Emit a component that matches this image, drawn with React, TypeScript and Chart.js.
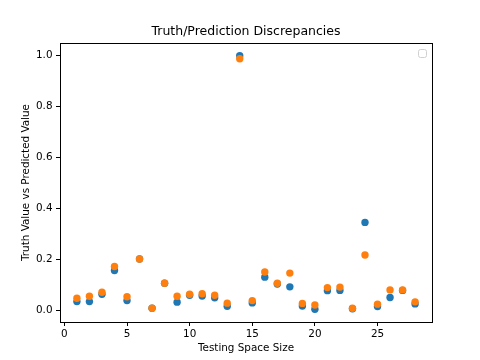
import React, { useEffect, useRef } from "react";
import { Chart, registerables } from "chart.js";

Chart.register(...registerables);

const testingSpaceSize = [1, 2, 3, 4, 5, 6, 7, 8, 9, 10, 11, 12, 13, 14, 15, 16, 17, 18, 19, 20, 21, 22, 23, 24, 25, 26, 27, 28];
const truthValues = [0.035, 0.035, 0.064, 0.157, 0.039, 0.202, 0.009, 0.107, 0.033, 0.060, 0.057, 0.050, 0.017, 1.0, 0.030, 0.131, 0.104, 0.093, 0.018, 0.005, 0.078, 0.079, 0.007, 0.346, 0.016, 0.051, 0.079, 0.026];
const predictedValues = [0.048, 0.056, 0.072, 0.173, 0.054, 0.202, 0.009, 0.107, 0.056, 0.064, 0.066, 0.060, 0.029, 0.988, 0.039, 0.151, 0.107, 0.147, 0.028, 0.022, 0.090, 0.092, 0.009, 0.218, 0.025, 0.081, 0.081, 0.034];
const xTickValues = [0, 5, 10, 15, 20, 25];
const yTickValues = [0, 0.2, 0.4, 0.6, 0.8, 1.0];
const titleText = "Truth/Prediction Discrepancies";
const xTitle = "Testing Space Size";
const yTitle = "Truth Value vs Predicted Value";

const FONT = "'DejaVu Sans', sans-serif";

const framePlugin = {
  id: "frame",
  afterDraw(chart: any) {
    const { ctx, chartArea } = chart;
    ctx.save();
    ctx.strokeStyle = "#000";
    ctx.lineWidth = 1;
    const l = Math.round(chartArea.left) + 0.5;
    const t = Math.round(chartArea.top) + 0.5;
    const r = Math.round(chartArea.right) + 0.5;
    const b = Math.round(chartArea.bottom) + 0.5;
    ctx.strokeRect(l, t, r - l, b - t);
    ctx.fillStyle = "#000";
    ctx.font = `12.5px ${FONT}`;
    ctx.textAlign = "center";
    ctx.textBaseline = "middle";
    ctx.fillText(titleText, (chartArea.left + chartArea.right) / 2, 32);
    const bx = chartArea.right - 13.5;
    const by = chartArea.top + 6.5;
    ctx.strokeStyle = "#d0d0d0";
    ctx.fillStyle = "rgba(255,255,255,0.8)";
    ctx.beginPath();
    (ctx as any).roundRect(bx, by, 8, 8, 2);
    ctx.fill();
    ctx.stroke();
    ctx.restore();
  },
};

export default function App() {
  const ref = useRef<HTMLCanvasElement | null>(null);
  useEffect(() => {
    if (!ref.current) return;
    const chart = new Chart(ref.current, {
      type: "scatter",
      data: {
        datasets: [
          {
            label: "Truth",
            data: testingSpaceSize.map((x, i) => ({ x, y: truthValues[i] })),
            backgroundColor: "#1f77b4",
            borderWidth: 0,
            pointRadius: 3.7,
            order: 1,
          },
          {
            label: "Predicted",
            data: testingSpaceSize.map((x, i) => ({ x, y: predictedValues[i] })),
            backgroundColor: "#ff7f0e",
            borderWidth: 0,
            pointRadius: 3.7,
            order: 0,
          },
        ],
      },
      options: {
        responsive: false,
        animation: false,
        devicePixelRatio: 1,
        layout: { padding: { left: 0, right: 48, top: 43, bottom: 0 } },
        plugins: {
          legend: { display: false },
          title: { display: false },
          tooltip: { enabled: false },
        },
        scales: {
          x: {
            type: "linear",
            min: -0.35,
            max: 29.35,
            afterFit: (s: any) => {
              s.height = 38;
            },
            afterBuildTicks: (s: any) => {
              s.ticks = xTickValues.map((v) => ({ value: v }));
            },
            border: { display: false },
            grid: { display: true, drawOnChartArea: false, drawTicks: true, tickLength: 4, color: "#000", lineWidth: 1 },
            ticks: { color: "#000", font: { family: FONT, size: 10.4 }, padding: 2, maxRotation: 0 },
            title: { display: true, text: xTitle, color: "#000", font: { family: FONT, size: 10.4 }, padding: { top: 0, bottom: 5 } },
          },
          y: {
            type: "linear",
            min: -0.045,
            max: 1.05,
            afterFit: (s: any) => {
              s.width = 60;
            },
            afterBuildTicks: (s: any) => {
              s.ticks = yTickValues.map((v) => ({ value: v }));
            },
            border: { display: false },
            grid: { display: true, drawOnChartArea: false, drawTicks: true, tickLength: 4, color: "#000", lineWidth: 1 },
            ticks: { color: "#000", font: { family: FONT, size: 10.4 }, padding: 3.5, callback: (v: any) => Number(v).toFixed(1) },
            title: { display: true, text: yTitle, color: "#000", font: { family: FONT, size: 10.4 }, padding: { top: 20, bottom: 0 } },
          },
        },
      },
      plugins: [framePlugin],
    });
    return () => chart.destroy();
  }, []);
  return (
    <div style={{ position: "fixed", left: 0, top: 0, width: 480, height: 360, background: "#fff" }}>
      <canvas ref={ref} width={480} height={360} />
    </div>
  );
}
